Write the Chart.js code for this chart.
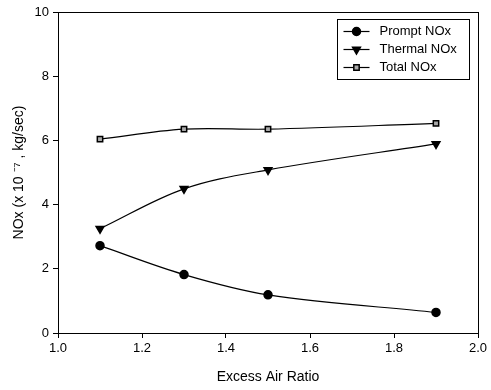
<!DOCTYPE html>
<html><head><meta charset="utf-8">
<script src="https://cdn.jsdelivr.net/npm/chart.js@4/dist/chart.umd.min.js"></script>
<style>html,body{margin:0;padding:0;background:#fff;}#wrap{width:491px;height:390px;}</style>
</head><body><div id="wrap"><canvas id="c" width="491" height="390"></canvas></div>
<script>
const excessAir = [1.1, 1.3, 1.5, 1.9];
const promptNOx = [2.72, 1.82, 1.19, 0.64];
const thermalNOx = [3.25, 4.49, 5.08, 5.89];
const totalNOx = [6.04, 6.35, 6.35, 6.53];
const seriesLabels = ['Prompt NOx', 'Thermal NOx', 'Total NOx'];
const xTicks = [1.0, 1.2, 1.4, 1.6, 1.8, 2.0];
const yTicks = [0, 2, 4, 6, 8, 10];

const FONT = 'Liberation Sans, Arial, sans-serif';
function pts(arr){ return excessAir.map((x,i)=>({x:x,y:arr[i]})); }

const styles = [
  {pointStyle:'circle', radius:4, rotation:0, bg:'#000'},
  {pointStyle:'triangle', radius:4.5, rotation:180, bg:'#000'},
  {pointStyle:'rect', radius:3.8, rotation:0, bg:'#aaa'}
];
const datasets = [promptNOx, thermalNOx, totalNOx].map((d,i)=>({
  label: seriesLabels[i], data: pts(d), showLine:true, tension:0.35,
  borderColor:'#000', borderWidth:1.2, backgroundColor:styles[i].bg,
  pointStyle:styles[i].pointStyle, pointRadius:styles[i].radius,
  pointRotation:styles[i].rotation, pointBorderColor:'#000', pointBorderWidth:1.5
}));

const boxLegend = {
  id:'boxLegend',
  afterDraw(chart){
    const ctx = chart.ctx, a = chart.chartArea;
    ctx.save();
    ctx.strokeStyle='#000'; ctx.lineWidth=1;
    ctx.strokeRect(a.left+0.5, a.top+0.5, a.right-a.left, a.bottom-a.top);
    const bx=337.5, by=19.5, bw=132, bh=60;
    ctx.strokeRect(bx,by,bw,bh);
    ctx.font = '13px ' + FONT; ctx.textBaseline='middle';
    chart.data.datasets.forEach((ds,i)=>{
      const y = by + 12 + i*18;
      ctx.strokeStyle='#000';
      ctx.beginPath(); ctx.moveTo(bx+6,y); ctx.lineTo(bx+32,y); ctx.lineWidth=1.2; ctx.stroke();
      ctx.fillStyle=ds.backgroundColor; ctx.lineWidth=1.5;
      Chart.helpers.drawPoint(ctx, {pointStyle:ds.pointStyle, radius:ds.pointRadius, rotation:ds.pointRotation, borderWidth:1.5}, bx+19, y);
      ctx.fillStyle='#000';
      ctx.fillText(ds.label, bx+42, y);
    });
    ctx.restore();
  }
};

new Chart(document.getElementById('c'), {
  type:'scatter',
  data:{datasets},
  plugins:[boxLegend],
  options:{
    responsive:false, animation:false, devicePixelRatio:1,
    layout:{padding:{top:12, right:13, left:7, bottom:0}},
    plugins:{legend:{display:false}, tooltip:{enabled:false}},
    scales:{
      x:{type:'linear', min:1.0, max:2.0,
        afterBuildTicks(s){ s.ticks = xTicks.map(v=>({value:v})); },
        afterFit(s){ s.height = 57; },
        ticks:{color:'#000', font:{family:FONT, size:13}, padding:3, callback:v=>Number(v).toFixed(1)},
        grid:{drawOnChartArea:false, drawTicks:true, tickLength:5, color:'#000'},
        border:{color:'#000', width:1},
        title:{display:true, text:'Excess Air Ratio', color:'#000', font:{family:FONT, size:14}, padding:{top:2}}
      },
      y:{type:'linear', min:0, max:10,
        afterBuildTicks(s){ s.ticks = yTicks.map(v=>({value:v})); },
        afterFit(s){ s.width = 51; },
        ticks:{color:'#000', font:{family:FONT, size:13}, padding:4},
        grid:{drawOnChartArea:false, drawTicks:true, tickLength:5, color:'#000'},
        border:{color:'#000', width:1},
        title:{display:true, text:'NOx (x 10 \u207B\u2077 , kg/sec)', color:'#000', font:{family:FONT, size:14}, padding:{bottom:4}}
      }
    }
  }
});
</script></body></html>
